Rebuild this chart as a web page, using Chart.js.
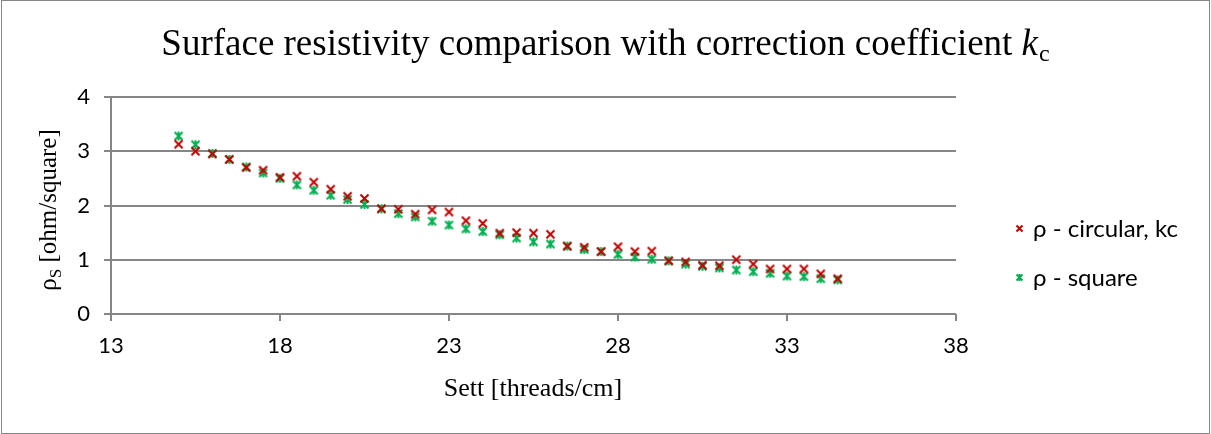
<!DOCTYPE html>
<html>
<head>
<meta charset="utf-8">
<script src="https://cdn.jsdelivr.net/npm/chart.js@4/dist/chart.umd.min.js"></script>
<style>
  html, body { margin: 0; padding: 0; background: #fff; }
  #wrap { position: relative; width: 1211px; height: 434px; }
</style>
</head>
<body>
<div id="wrap"><canvas id="chart" width="1211" height="434"></canvas></div>
<script>
// sett values (threads/cm)
var sett = [15, 15.5, 16, 16.5, 17, 17.5, 18, 18.5, 19, 19.5,
            20, 20.5, 21, 21.5, 22, 22.5, 23, 23.5, 24, 24.5,
            25, 25.5, 26, 26.5, 27, 27.5, 28, 28.5, 29, 29.5,
            30, 30.5, 31, 31.5, 32, 32.5, 33, 33.5, 34, 34.5];

// rho - circular, kc
var rho_circular = [3.13, 3.00, 2.95, 2.85, 2.70, 2.65, 2.52, 2.54, 2.43, 2.30,
                    2.17, 2.13, 1.94, 1.93, 1.84, 1.92, 1.88, 1.72, 1.67, 1.49,
                    1.50, 1.49, 1.47, 1.25, 1.23, 1.15, 1.24, 1.15, 1.16, 0.98,
                    0.96, 0.90, 0.89, 1.00, 0.92, 0.83, 0.83, 0.83, 0.74, 0.65];

// rho - square
var rho_square = [3.28, 3.12, 2.96, 2.85, 2.71, 2.60, 2.50, 2.38, 2.28, 2.19,
                  2.11, 2.02, 1.94, 1.85, 1.79, 1.71, 1.64, 1.57, 1.52, 1.46,
                  1.40, 1.33, 1.29, 1.25, 1.19, 1.15, 1.10, 1.05, 1.01, 0.98,
                  0.92, 0.88, 0.85, 0.81, 0.78, 0.75, 0.70, 0.69, 0.65, 0.63];

var x_ticks = [13, 18, 23, 28, 33, 38];
var y_ticks = [0, 1, 2, 3, 4];

var series_names = ['\u03c1 - circular, kc', '\u03c1 - square'];
var RED = '#c00000';
var GREEN = '#00b050';
var GRID = '#868686';
var LABEL_FONT = 'Lato, "Open Sans", sans-serif';
var SERIF = '"Liberation Serif", "Times New Roman", serif';

function make_marker(color, star, size)
{
    var c = document.createElement('canvas');
    c.width = size + 2; c.height = size + 2;
    var g = c.getContext('2d');
    var lo = 1.5, hi = size + 0.5, mid = (size + 2) / 2;
    g.strokeStyle = color;
    g.lineWidth = 2;
    g.beginPath();
    g.moveTo(lo, lo); g.lineTo(hi, hi);
    g.moveTo(hi, lo); g.lineTo(lo, hi);
    if (star) {
        g.moveTo(mid, 1); g.lineTo(mid, size + 1);
    }
    g.stroke();
    return c;
}

var red_marker = make_marker(RED, false, 9);
var green_marker = make_marker(GREEN, true, 9);
var red_key = make_marker(RED, false, 7);
var green_key = make_marker(GREEN, true, 7);

function to_points(xs, ys)
{
    var pts = [];
    for (var i = 0; i < xs.length; i++) {
        pts.push({x: xs[i], y: ys[i]});
    }
    return pts;
}

// title, axis titles, legend, frame
var decorations = {
    id: 'decorations',
    beforeDraw: function (chart) {
        var ctx = chart.ctx;
        ctx.save();
        ctx.fillStyle = '#fff';
        ctx.fillRect(0, 0, chart.width, chart.height);
        ctx.restore();
    },
    afterDraw: function (chart) {
        var ctx = chart.ctx;
        ctx.save();

        // outer frame
        ctx.strokeStyle = GRID;
        ctx.lineWidth = 1;
        ctx.strokeRect(1.5, 0.5, chart.width - 3, chart.height - 1);

        // title with italic k and subscript c
        ctx.fillStyle = '#000';
        ctx.textBaseline = 'alphabetic';
        var t1 = 'Surface resistivity comparison with correction coefficient ';
        ctx.font = '37px ' + SERIF;
        var w1 = ctx.measureText(t1).width;
        ctx.font = 'italic 37px ' + SERIF;
        var w2 = ctx.measureText('k').width;
        ctx.font = '24px ' + SERIF;
        var w3 = ctx.measureText('c').width;
        var x0 = 605 - (w1 + w2 + w3) / 2;
        ctx.textAlign = 'left';
        ctx.font = '37px ' + SERIF;
        ctx.fillText(t1, x0, 55);
        ctx.font = 'italic 37px ' + SERIF;
        ctx.fillText('k', x0 + w1, 55);
        ctx.font = '24px ' + SERIF;
        ctx.fillText('c', x0 + w1 + w2 + 1, 61);

        // x axis title
        ctx.font = '26px ' + SERIF;
        ctx.textAlign = 'center';
        ctx.fillText('Sett [threads/cm]', 533, 396);

        // y axis title (rotated) with subscript S
        ctx.save();
        ctx.translate(56, 210);
        ctx.rotate(-Math.PI / 2);
        ctx.font = '25px ' + SERIF;
        var a = '\u03c1';
        var b = 'S';
        var c = ' [ohm/square]';
        var wa = ctx.measureText(a).width;
        ctx.font = '17px ' + SERIF;
        var wb = ctx.measureText(b).width;
        ctx.font = '25px ' + SERIF;
        var wc = ctx.measureText(c).width;
        var sx = -(wa + wb + wc) / 2;
        ctx.textAlign = 'left';
        ctx.fillText(a, sx, 0);
        ctx.font = '17px ' + SERIF;
        ctx.fillText(b, sx + wa, 5);
        ctx.font = '25px ' + SERIF;
        ctx.fillText(c, sx + wa + wb, 0);
        ctx.restore();

        // legend
        ctx.font = '24px ' + LABEL_FONT;
        ctx.textAlign = 'left';
        ctx.textBaseline = 'middle';
        ctx.drawImage(red_key, 1015, 224);
        ctx.fillText(series_names[0], 1033, 229);
        ctx.drawImage(green_key, 1015, 273);
        ctx.fillText(series_names[1], 1033, 278);

        ctx.restore();
    }
};

var ctx = document.getElementById('chart').getContext('2d');
var chart = new Chart(ctx, {
    type: 'scatter',
    data: {
        datasets: [{
            label: series_names[0],
            data: to_points(sett, rho_circular),
            pointStyle: red_marker,
            borderColor: RED,
            backgroundColor: RED
        }, {
            label: series_names[1],
            data: to_points(sett, rho_square),
            pointStyle: green_marker,
            borderColor: GREEN,
            backgroundColor: GREEN
        }]
    },
    options: {
        responsive: false,
        animation: false,
        events: [],
        layout: {
            padding: {left: 0, top: 97, right: 255, bottom: 0}
        },
        plugins: {
            legend: {display: false},
            title: {display: false},
            tooltip: {enabled: false}
        },
        scales: {
            x: {
                type: 'linear',
                min: 13,
                max: 38,
                afterBuildTicks: function (scale) {
                    scale.ticks = x_ticks.map(function (v) { return {value: v}; });
                },
                afterFit: function (scale) { scale.height = 120; },
                grid: {
                    drawOnChartArea: false,
                    drawTicks: true,
                    tickLength: 7,
                    tickColor: GRID,
                    lineWidth: 2
                },
                border: {display: false},
                ticks: {
                    color: '#000',
                    font: {family: LABEL_FONT, size: 22},
                    padding: 12,
                    maxRotation: 0
                }
            },
            y: {
                type: 'linear',
                min: 0,
                max: 4,
                afterBuildTicks: function (scale) {
                    scale.ticks = y_ticks.map(function (v) { return {value: v}; });
                },
                afterFit: function (scale) { scale.width = 111; },
                grid: {
                    color: GRID,
                    lineWidth: 2,
                    drawTicks: true,
                    tickLength: 7,
                    tickColor: GRID
                },
                border: {display: true, color: GRID, width: 2},
                ticks: {
                    color: '#000',
                    font: {family: LABEL_FONT, size: 22},
                    padding: 14
                }
            }
        }
    },
    plugins: [decorations]
});
</script>
</body>
</html>
